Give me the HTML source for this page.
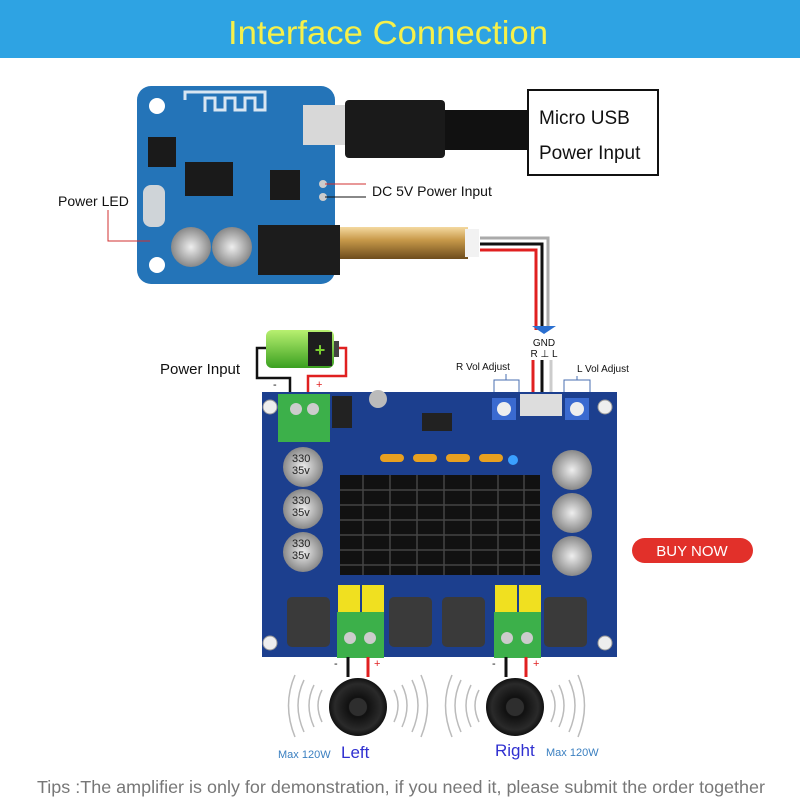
<!DOCTYPE html>
<html><head><meta charset="utf-8"><style>
html,body{margin:0;padding:0;background:#fff;}
svg{display:block;font-family:"Liberation Sans",sans-serif;}
</style></head><body>
<svg width="800" height="800" viewBox="0 0 800 800" xmlns="http://www.w3.org/2000/svg">
<defs>
<linearGradient id="gold" x1="0" y1="0" x2="0" y2="1"><stop offset="0" stop-color="#f4d9a0"/><stop offset="0.4" stop-color="#c89a4a"/><stop offset="1" stop-color="#6e4c1c"/></linearGradient>
<linearGradient id="bat" x1="0" y1="0" x2="0" y2="1"><stop offset="0" stop-color="#b8f070"/><stop offset="1" stop-color="#3aa020"/></linearGradient>
<radialGradient id="spk"><stop offset="0" stop-color="#333"/><stop offset="0.35" stop-color="#111"/><stop offset="0.8" stop-color="#2a2a2a"/><stop offset="1" stop-color="#111"/></radialGradient>
<radialGradient id="cap"><stop offset="0" stop-color="#eee"/><stop offset="1" stop-color="#888"/></radialGradient>
</defs>
<rect x="0" y="0" width="800" height="58" fill="#2ea3e3"/>
<text x="228" y="44" textLength="320" lengthAdjust="spacingAndGlyphs" font-size="33" fill="#f6f04a">Interface  Connection</text>

<rect x="137" y="86" width="198" height="198" rx="14" fill="#2474b8"/>
<circle cx="157" cy="106" r="8" fill="#fff"/><circle cx="157" cy="265" r="8" fill="#fff"/>
<path d="M185 100 V92 H265 V110 H255 V98 H245 V110 H235 V98 H225 V110 H215 V98 H205 V112" stroke="#d8e6f2" stroke-width="3" fill="none"/>
<rect x="148" y="137" width="28" height="30" fill="#1a1a1a"/>
<rect x="185" y="162" width="48" height="34" fill="#1a1a1a"/>
<rect x="270" y="170" width="30" height="30" fill="#1a1a1a"/>
<rect x="143" y="185" width="22" height="42" rx="8" fill="#cfd4d8"/>
<circle cx="191" cy="247" r="20" fill="url(#cap)"/><circle cx="232" cy="247" r="20" fill="url(#cap)"/>
<rect x="258" y="225" width="82" height="50" fill="#1c1c1c"/>
<rect x="303" y="105" width="42" height="40" fill="#d8d8d8"/>
<circle cx="323" cy="184" r="4" fill="#ccc"/><circle cx="323" cy="197" r="4" fill="#ccc"/>
<rect x="345" y="100" width="100" height="58" rx="4" fill="#1a1a1a"/>
<rect x="445" y="110" width="85" height="40" fill="#111"/>
<rect x="528" y="90" width="130" height="85" fill="#fff" stroke="#111" stroke-width="2"/>
<text x="539" y="124" font-size="19" fill="#111">Micro USB</text>
<text x="539" y="159" font-size="19" fill="#111">Power Input</text>
<line x1="325" y1="184" x2="366" y2="184" stroke="#d03030"/>
<line x1="325" y1="197" x2="366" y2="197" stroke="#111"/>
<text x="372" y="196" font-size="14" fill="#111">DC 5V Power Input</text>
<rect x="340" y="227" width="128" height="32" fill="url(#gold)"/>
<rect x="465" y="229" width="14" height="28" fill="#f2f2f2"/>
<path d="M480 238 H548 V330" stroke="#aaa" stroke-width="3" fill="none"/>
<path d="M480 244 H542 V330" stroke="#111" stroke-width="3" fill="none"/>
<path d="M480 250 H536 V330" stroke="#e02020" stroke-width="3" fill="none"/>
<text x="58" y="206" font-size="14" fill="#111">Power LED</text>
<path d="M108 210 V241 H150" stroke="#d03030" fill="none"/>

<path d="M532 326 H556 L544 334 Z" fill="#2a6fd0"/>
<text x="544" y="346" text-anchor="middle" font-size="10" fill="#111">GND</text>
<text x="544" y="357" text-anchor="middle" font-size="10" fill="#111">R ⊥ L</text>
<line x1="533" y1="360" x2="533" y2="405" stroke="#e02020" stroke-width="3"/>
<line x1="542" y1="360" x2="542" y2="405" stroke="#111" stroke-width="3"/>
<line x1="551" y1="360" x2="551" y2="405" stroke="#ccc" stroke-width="3"/>
<text x="456" y="370" font-size="10" fill="#111">R Vol Adjust</text>
<path d="M494 392 V380 H519 V392 M506 380 V374" stroke="#4a6fb0" fill="none"/>
<text x="577" y="372" font-size="10" fill="#111">L Vol Adjust</text>
<path d="M564 392 V380 H590 V392 M577 380 V376" stroke="#4a6fb0" fill="none"/>

<text x="160" y="374" font-size="15" fill="#111">Power  Input</text>
<rect x="266" y="330" width="68" height="38" rx="6" fill="url(#bat)"/>
<rect x="308" y="332" width="24" height="34" fill="#1e1e1e"/>
<text x="320" y="356" text-anchor="middle" font-size="18" font-weight="bold" fill="#7ad030">+</text>
<rect x="334" y="341" width="5" height="16" fill="#444"/>
<path d="M266 348 H257 V378 H290 V398" stroke="#111" stroke-width="2.5" fill="none"/>
<path d="M339 348 H346 V376 H308 V398" stroke="#e02020" stroke-width="2.5" fill="none"/>
<text x="273" y="388" font-size="11" fill="#111">-</text>
<text x="316" y="388" font-size="11" fill="#e02020">+</text>

<rect x="262" y="392" width="355" height="265" fill="#1c3f8e"/>
<circle cx="270" cy="407" r="7" fill="#eee" stroke="#999"/><circle cx="605" cy="407" r="7" fill="#eee" stroke="#999"/>
<circle cx="270" cy="643" r="7" fill="#eee" stroke="#999"/><circle cx="605" cy="643" r="7" fill="#eee" stroke="#999"/>
<rect x="278" y="394" width="52" height="48" fill="#3cb04a"/>
<circle cx="296" cy="409" r="6" fill="#ccc"/><circle cx="313" cy="409" r="6" fill="#ccc"/>
<rect x="332" y="396" width="20" height="32" fill="#222"/>
<circle cx="378" cy="399" r="9" fill="#bbb"/>
<rect x="422" y="413" width="30" height="18" fill="#222"/>
<rect x="492" y="398" width="24" height="22" fill="#3a6ad0"/><circle cx="504" cy="409" r="7" fill="#eee"/>
<rect x="520" y="394" width="42" height="22" fill="#ddd"/>
<rect x="565" y="398" width="24" height="22" fill="#3a6ad0"/><circle cx="577" cy="409" r="7" fill="#eee"/>
<rect x="380" y="454" width="24" height="8" rx="4" fill="#e8a020"/>
<rect x="413" y="454" width="24" height="8" rx="4" fill="#e8a020"/>
<rect x="446" y="454" width="24" height="8" rx="4" fill="#e8a020"/>
<rect x="479" y="454" width="24" height="8" rx="4" fill="#e8a020"/>
<circle cx="513" cy="460" r="5" fill="#3aa0ff"/>
<rect x="340" y="475" width="200" height="100" fill="#111"/>
<g stroke="#444" stroke-width="1.5">
<line x1="340" y1="490" x2="540" y2="490"/><line x1="340" y1="505" x2="540" y2="505"/><line x1="340" y1="520" x2="540" y2="520"/><line x1="340" y1="535" x2="540" y2="535"/><line x1="340" y1="550" x2="540" y2="550"/><line x1="340" y1="565" x2="540" y2="565"/>
<line x1="363" y1="475" x2="363" y2="575"/><line x1="390" y1="475" x2="390" y2="575"/><line x1="417" y1="475" x2="417" y2="575"/><line x1="444" y1="475" x2="444" y2="575"/><line x1="471" y1="475" x2="471" y2="575"/><line x1="498" y1="475" x2="498" y2="575"/><line x1="524" y1="475" x2="524" y2="575"/>
</g>
<g font-size="11" fill="#222">
<circle cx="303" cy="467" r="20" fill="url(#cap)"/><text x="292" y="462">330</text><text x="292" y="474">35v</text>
<circle cx="303" cy="509" r="20" fill="url(#cap)"/><text x="292" y="504">330</text><text x="292" y="516">35v</text>
<circle cx="303" cy="552" r="20" fill="url(#cap)"/><text x="292" y="547">330</text><text x="292" y="559">35v</text>
<circle cx="572" cy="470" r="20" fill="url(#cap)"/><circle cx="572" cy="513" r="20" fill="url(#cap)"/><circle cx="572" cy="556" r="20" fill="url(#cap)"/>
</g>
<rect x="287" y="597" width="43" height="50" rx="5" fill="#3a3a3a"/>
<rect x="389" y="597" width="43" height="50" rx="5" fill="#3a3a3a"/>
<rect x="442" y="597" width="43" height="50" rx="5" fill="#3a3a3a"/>
<rect x="544" y="597" width="43" height="50" rx="5" fill="#3a3a3a"/>
<rect x="338" y="585" width="22" height="32" fill="#f0e020"/><rect x="362" y="585" width="22" height="32" fill="#f0e020"/>
<rect x="495" y="585" width="22" height="32" fill="#f0e020"/><rect x="519" y="585" width="22" height="32" fill="#f0e020"/>
<rect x="337" y="612" width="47" height="46" fill="#3cb04a"/><circle cx="350" cy="638" r="6" fill="#ccc"/><circle cx="370" cy="638" r="6" fill="#ccc"/>
<rect x="494" y="612" width="47" height="46" fill="#3cb04a"/><circle cx="507" cy="638" r="6" fill="#ccc"/><circle cx="527" cy="638" r="6" fill="#ccc"/>

<rect x="632" y="538" width="121" height="25" rx="12.5" fill="#e2302a"/>
<text x="692" y="556" text-anchor="middle" font-size="15" fill="#fff">BUY NOW</text>

<line x1="348" y1="657" x2="348" y2="677" stroke="#111" stroke-width="3"/>
<line x1="368" y1="657" x2="368" y2="677" stroke="#e02020" stroke-width="3"/>
<line x1="506" y1="657" x2="506" y2="677" stroke="#111" stroke-width="3"/>
<line x1="526" y1="657" x2="526" y2="677" stroke="#e02020" stroke-width="3"/>
<text x="334" y="667" font-size="11" fill="#111">-</text><text x="374" y="667" font-size="11" fill="#e02020">+</text>
<text x="492" y="667" font-size="11" fill="#111">-</text><text x="533" y="667" font-size="11" fill="#e02020">+</text>
<g fill="none" stroke="#bbb" stroke-width="1.5">
<path d="M322 690 Q314 705 322 722"/><path d="M314 685 Q304 705 314 727"/><path d="M304 680 Q292 705 304 732"/><path d="M295 675 Q282 705 295 737"/>
<path d="M394 690 Q402 705 394 722"/><path d="M402 685 Q412 705 402 727"/><path d="M412 680 Q424 705 412 732"/><path d="M421 675 Q434 705 421 737"/>
<path d="M479 690 Q471 705 479 722"/><path d="M471 685 Q461 705 471 727"/><path d="M461 680 Q449 705 461 732"/><path d="M452 675 Q439 705 452 737"/>
<path d="M551 690 Q559 705 551 722"/><path d="M559 685 Q569 705 559 727"/><path d="M569 680 Q581 705 569 732"/><path d="M578 675 Q591 705 578 737"/>
</g>
<circle cx="358" cy="707" r="29" fill="url(#spk)"/><circle cx="358" cy="707" r="9" fill="#2e2e2e"/>
<circle cx="515" cy="707" r="29" fill="url(#spk)"/><circle cx="515" cy="707" r="9" fill="#2e2e2e"/>
<text x="278" y="758" font-size="11" fill="#3a7fc0">Max 120W</text>
<text x="341" y="758" font-size="17" fill="#3030d0">Left</text>
<text x="495" y="756" font-size="17" fill="#3030d0">Right</text>
<text x="546" y="756" font-size="11" fill="#3a7fc0">Max 120W</text>
<text x="37" y="793" textLength="728" lengthAdjust="spacingAndGlyphs" font-size="17.5" fill="#777">Tips :The amplifier is only for demonstration, if you need it, please submit the order together</text>
</svg>
</body></html>
